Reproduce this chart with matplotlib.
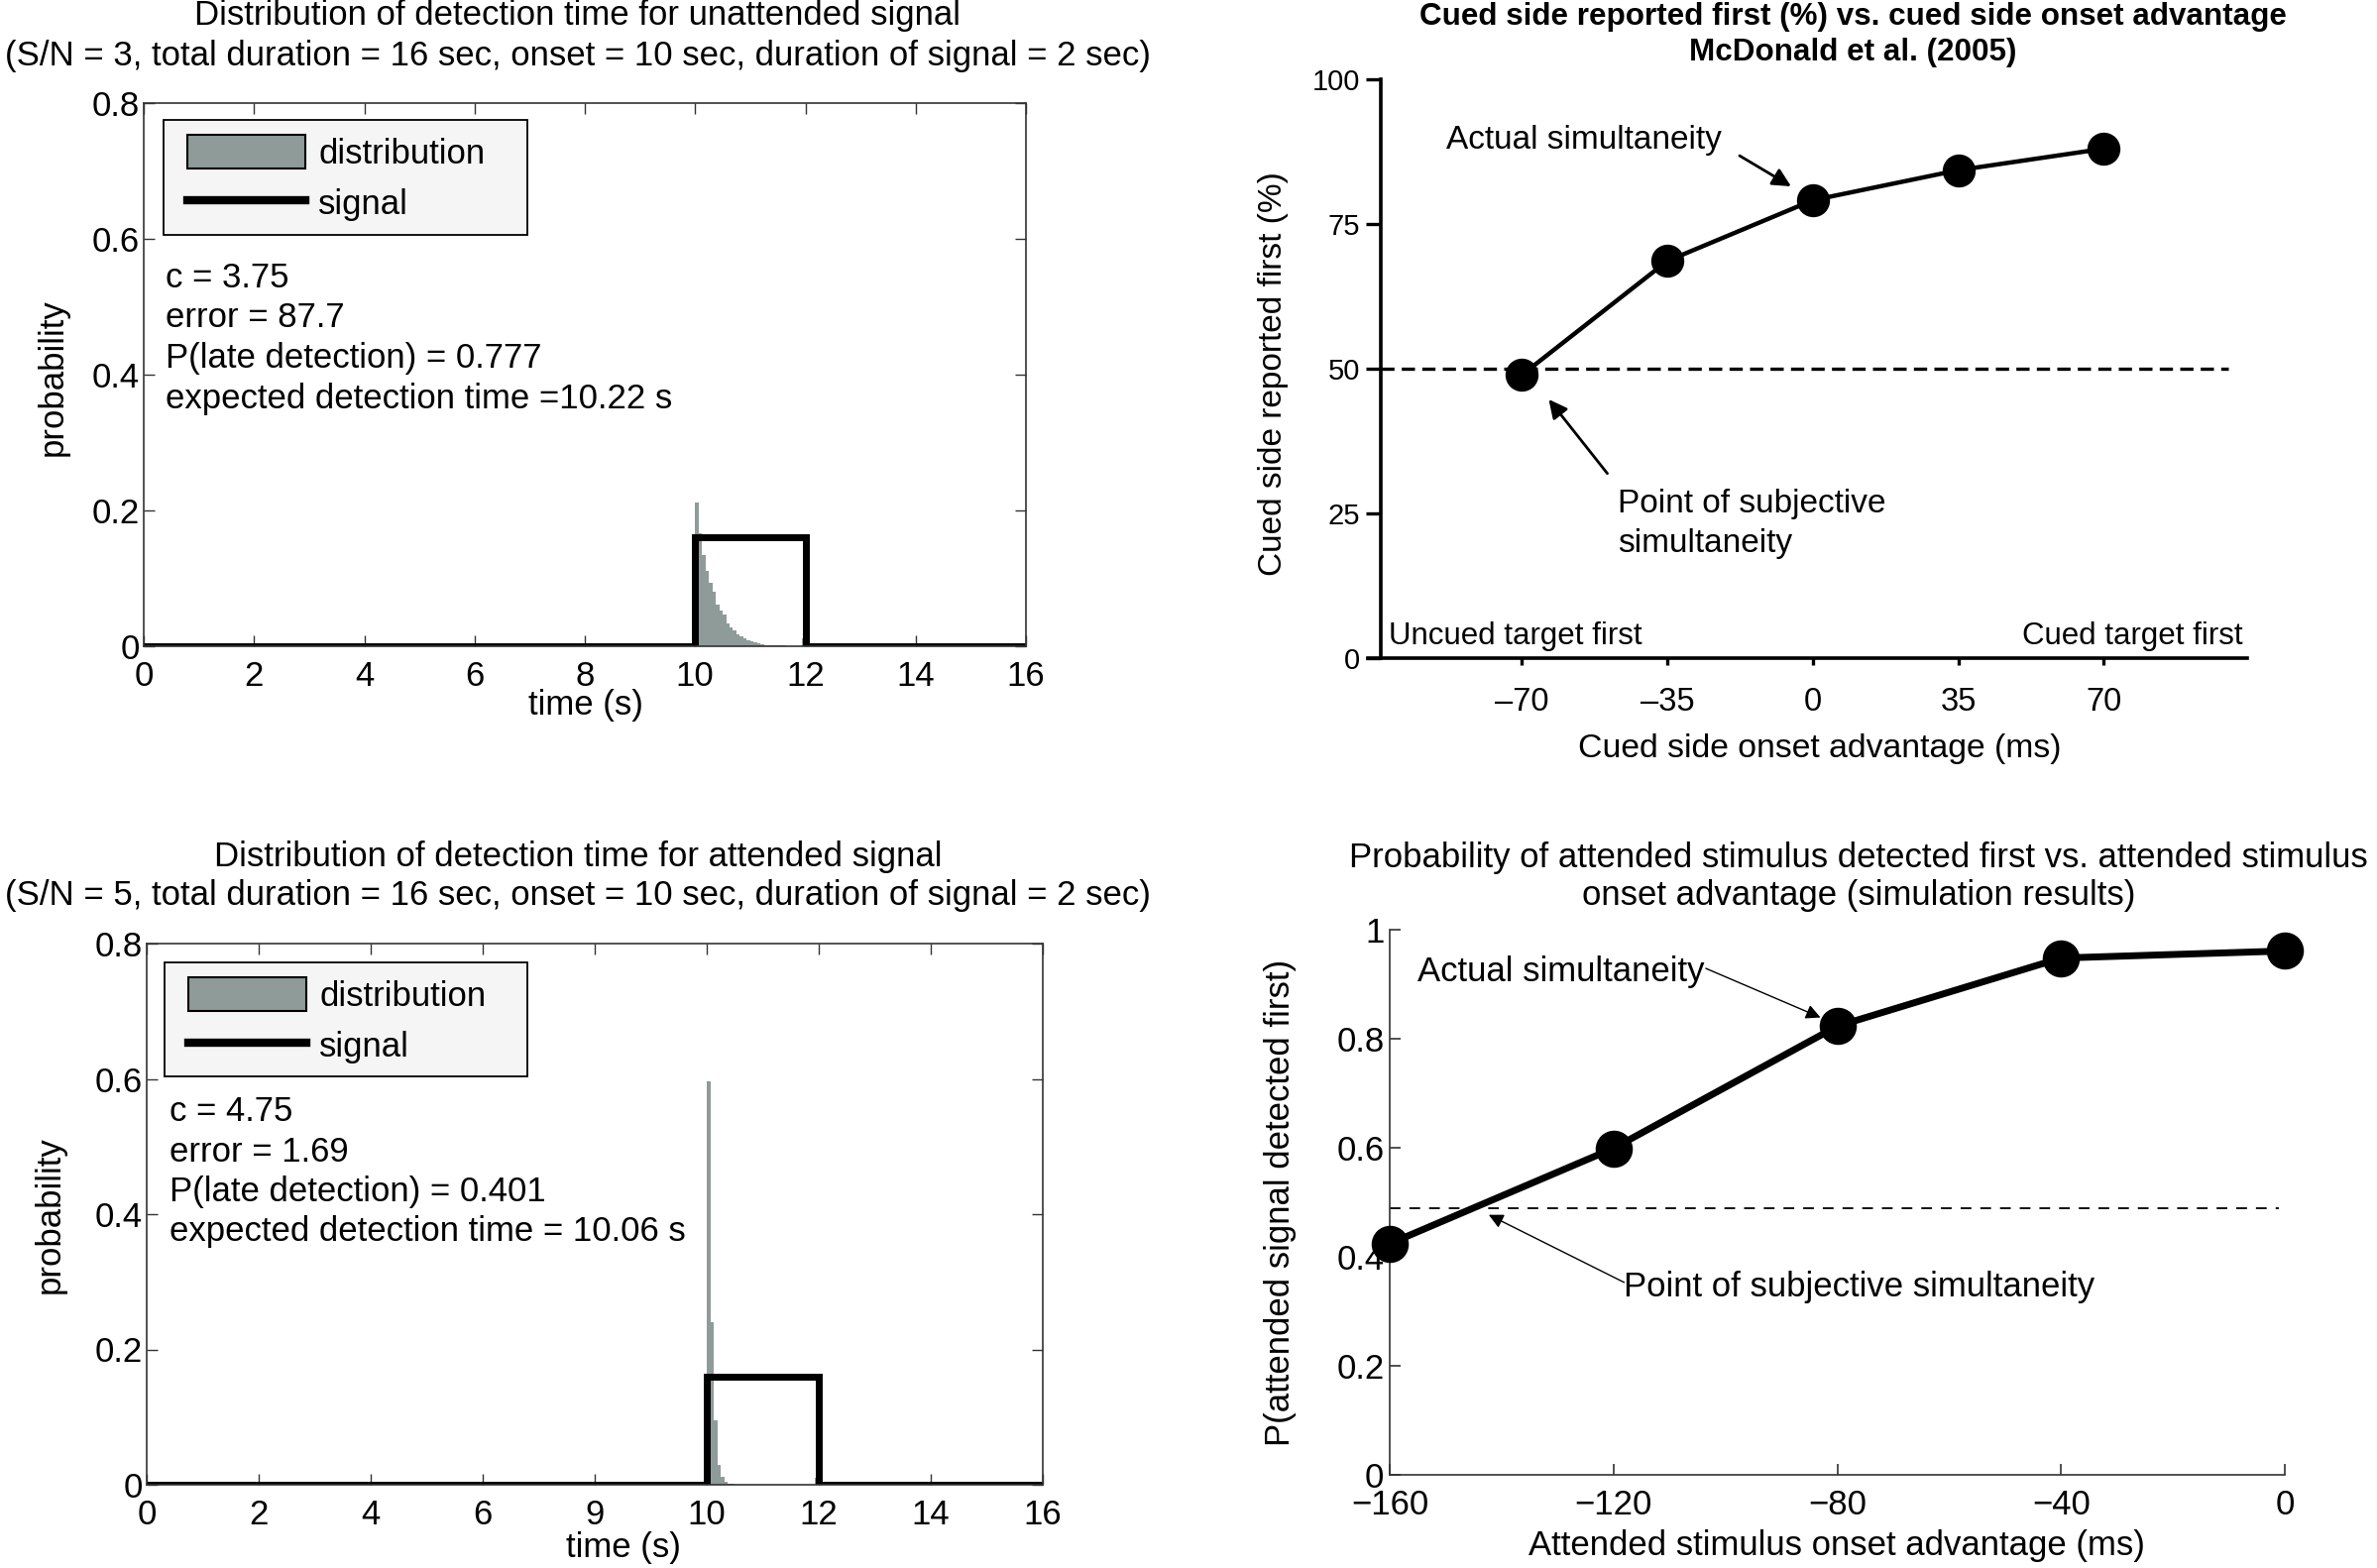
import numpy as np
import matplotlib
matplotlib.use("Agg")
import matplotlib.pyplot as plt
from matplotlib.patches import Patch, Rectangle
from matplotlib.lines import Line2D

plt.rcParams["font.family"] = ["Liberation Sans", "DejaVu Sans"]

# ---- data ----
total_duration = 16
signal_onset = 10
signal_duration = 2
signal_level = 0.16
bin_width = 0.0625

unattended_hist = [0.211, 0.167, 0.135, 0.111, 0.094, 0.080, 0.061, 0.052,
                   0.046, 0.034, 0.028, 0.024, 0.018, 0.015, 0.012, 0.009,
                   0.007, 0.006, 0.004, 0.003, 0.002, 0.002, 0.001, 0.001,
                   0.001, 0.001, 0.0005, 0.0005, 0.0005, 0.0005, 0.0005, 0.012]
attended_hist = [0.597, 0.240, 0.095, 0.030, 0.012, 0.005, 0.002, 0.001,
                 0.0005, 0.0005, 0, 0, 0, 0, 0, 0,
                 0, 0, 0, 0, 0, 0, 0, 0,
                 0, 0, 0, 0, 0, 0, 0, 0.010]

unattended_stats = ["c = 3.75", "error = 87.7", "P(late detection) = 0.777",
                    "expected detection time =10.22 s"]
attended_stats = ["c = 4.75", "error = 1.69", "P(late detection) = 0.401",
                  "expected detection time = 10.06 s"]

time_ticks = [0, 2, 4, 6, 8, 10, 12, 14, 16]
top_time_labels = ["0", "2", "4", "6", "8", "10", "12", "14", "16"]
bottom_time_labels = ["0", "2", "4", "6", "9", "10", "12", "14", "16"]

mcd_soa = [-70, -35, 0, 35, 70]
mcd_pct = [48.9, 68.6, 79.1, 84.3, 88.0]
mcd_soa_labels = ["\u201370", "\u201335", "0", "35", "70"]

sim_soa = [-160, -120, -80, -40, 0]
sim_prob = [0.424, 0.599, 0.823, 0.948, 0.961]
sim_soa_labels = ["\u2212160", "\u2212120", "\u221280", "\u221240", "0"]
sim_pss = 0.489

W, H = 2398, 1582
fig = plt.figure(figsize=(W / 100, H / 100), dpi=100)
fig.patch.set_facecolor("white")


def px_axes(left, top, right, bottom):
    return fig.add_axes([left / W, 1 - bottom / H, (right - left) / W, (bottom - top) / H])


hist_grey = "#8f9b99"


def detection_panel(ax, hist, stats, xlabels, text_y, box, xlab_pos, ylab_pos):
    lefts = signal_onset + np.arange(len(hist)) * bin_width
    ax.bar(lefts, hist, width=bin_width, align="edge", color=hist_grey, linewidth=0)
    st = [0, signal_onset, signal_onset, signal_onset + signal_duration,
          signal_onset + signal_duration, total_duration]
    sv = [0, 0, signal_level, signal_level, 0, 0]
    ax.plot(st, sv, color="black", lw=5, solid_joinstyle="miter")
    ax.set_xlim(0, total_duration)
    ax.set_ylim(0, 0.8)
    ax.set_xticks(time_ticks)
    ax.set_xticklabels(xlabels)
    ax.set_yticks([0, 0.2, 0.4, 0.6, 0.8])
    ax.set_yticklabels(["0", "0.2", "0.4", "0.6", "0.8"])
    ax.tick_params(direction="in", length=8, width=1, top=True, right=True,
                   labelsize=25, color="#333333")
    ax.tick_params(axis="x", pad=10)
    ax.tick_params(axis="y", pad=3)
    for s in ax.spines.values():
        s.set_linewidth(1.2)
        s.set_color("#333333")
    for i, t in enumerate(stats):
        ax.text(0.4, text_y[i], t, fontsize=25, va="center", ha="left")
    # legend box (MATLAB style, extra room on the right)
    bx0, by0, bx1, by1 = box
    ax.add_patch(Rectangle((bx0, by0), bx1 - bx0, by1 - by0, transform=ax.transAxes,
                           facecolor="#f4f5f4", edgecolor="black", lw=1.3, zorder=4))
    handles = [Patch(facecolor=hist_grey, edgecolor="black", lw=1.5),
               Line2D([], [], color="black", lw=6)]
    leg = ax.legend(handles, ["distribution", "signal"], loc="upper left",
                    bbox_to_anchor=(bx0 + 0.026, by1 - 0.028), borderaxespad=0,
                    borderpad=0, fontsize=25, frameon=False, handlelength=3.45,
                    handleheight=1.1, handletextpad=0.37, labelspacing=0.45)
    leg.set_zorder(5)
    ax.set_xlabel("time (s)", fontsize=25)
    ax.xaxis.set_label_coords(*xlab_pos)
    ax.xaxis.label.set_va("center")
    ax.set_ylabel("probability", fontsize=25)
    ax.yaxis.set_label_coords(*ylab_pos)
    ax.yaxis.label.set_va("center")


# ---- top left ----
ax1 = px_axes(145, 104, 1035, 652)
detection_panel(ax1, unattended_hist, unattended_stats, top_time_labels,
                [0.543, 0.484, 0.424, 0.364], (0.023, 0.758, 0.435, 0.969),
                (0.501, -0.109), (-0.103, 0.496))
fig.text(583 / W, 1 - 36 / H,
         "Distribution of detection time for unattended signal\n"
         "(S/N = 3, total duration = 16 sec, onset = 10 sec, duration of signal = 2 sec)",
         ha="center", va="center", fontsize=25, linespacing=1.27)

# ---- bottom left ----
ax2 = px_axes(148, 952, 1052, 1498)
detection_panel(ax2, attended_hist, attended_stats, bottom_time_labels,
                [0.551, 0.492, 0.433, 0.374], (0.02, 0.755, 0.425, 0.965),
                (0.532, -0.117), (-0.108, 0.499))
fig.text(583 / W, 1 - 884 / H,
         "Distribution of detection time for attended signal\n"
         "(S/N = 5, total duration = 16 sec, onset = 10 sec, duration of signal = 2 sec)",
         ha="center", va="center", fontsize=25, linespacing=1.24)

# ---- top right (McDonald et al. 2005) ----
ax3 = px_axes(1380, 80, 2267, 664)
ax3.plot([-104, 100], [50, 50], color="black", lw=2.4, ls=(0, (4, 2.2)), clip_on=False)
ax3.plot(mcd_soa, mcd_pct, color="black", lw=3.2, marker="o", ms=23, clip_on=False, zorder=3)
ax3.set_xlim(-107, 104.5)
ax3.set_ylim(0, 100)
ax3.set_xticks(mcd_soa)
ax3.set_xticklabels(mcd_soa_labels)
ax3.set_yticks([0, 25, 50, 75, 100])
ax3.spines["left"].set_position(("data", -104))
for s in ["top", "right"]:
    ax3.spines[s].set_visible(False)
for s in ["left", "bottom"]:
    ax3.spines[s].set_linewidth(2.6)
ax3.tick_params(axis="y", direction="out", length=11, width=2.4, labelsize=21, pad=4)
ax3.tick_params(axis="x", direction="out", length=5, width=2.4, labelsize=23.5, pad=16)
ax3.annotate("", xy=(-5.2, 81.5), xytext=(-17.6, 86.8),
             arrowprops=dict(arrowstyle="-|>", color="black", lw=2, mutation_scale=28,
                             shrinkA=0, shrinkB=0))
ax3.text(-88.2, 89.4, "Actual simultaneity", fontsize=24, va="center", ha="left")
ax3.annotate("", xy=(-63.5, 44.7), xytext=(-49.4, 31.9),
             arrowprops=dict(arrowstyle="-|>", color="black", lw=2, mutation_scale=28,
                             shrinkA=0, shrinkB=0))
ax3.text(-46.8, 23.2, "Point of subjective\nsimultaneity", fontsize=24,
         va="center", ha="left", linespacing=1.35)
ax3.text(-102.1, 3.8, "Uncued target first", fontsize=22.5, va="center", ha="left")
ax3.text(103.4, 3.8, "Cued target first", fontsize=22.5, va="center", ha="right")
ax3.set_xlabel("Cued side onset advantage (ms)", fontsize=24.3)
ax3.xaxis.set_label_coords(0.514, -0.1575)
ax3.xaxis.label.set_va("center")
ax3.set_ylabel("Cued side reported first (%)", fontsize=24)
ax3.yaxis.set_label_coords(-0.108, 0.492)
ax3.yaxis.label.set_va("center")
fig.text(1869 / W, 1 - 35 / H,
         "Cued side reported first (%) vs. cued side onset advantage\nMcDonald et al. (2005)",
         ha="center", va="center", fontsize=22.6, fontweight="bold", linespacing=1.22)

# ---- bottom right (simulation) ----
ax4 = px_axes(1402, 938, 2305, 1488)
ax4.plot([-160, -1], [sim_pss, sim_pss], color="black", lw=1.3, ls=(0, (6, 5)))
ax4.plot(sim_soa, sim_prob, color="black", lw=5, marker="o", ms=26, clip_on=False, zorder=3)
ax4.set_xlim(-160, 0)
ax4.set_ylim(0, 1)
ax4.set_xticks(sim_soa)
ax4.set_xticklabels(sim_soa_labels)
ax4.set_yticks([0, 0.2, 0.4, 0.6, 0.8, 1])
ax4.set_yticklabels(["0", "0.2", "0.4", "0.6", "0.8", "1"])
for s in ["top", "right"]:
    ax4.spines[s].set_visible(False)
for s in ["left", "bottom"]:
    ax4.spines[s].set_linewidth(1.2)
    ax4.spines[s].set_color("#333333")
ax4.tick_params(direction="in", length=8, width=1.2, labelsize=25, color="#333333")
ax4.tick_params(axis="x", pad=10)
ax4.tick_params(axis="y", pad=4)
ax4.annotate("", xy=(-83, 0.839), xytext=(-103.5, 0.929),
             arrowprops=dict(arrowstyle="-|>", color="black", lw=1, mutation_scale=22,
                             shrinkA=0, shrinkB=0))
ax4.text(-155, 0.923, "Actual simultaneity", fontsize=25, va="center", ha="left")
ax4.annotate("", xy=(-142.3, 0.477), xytext=(-118.1, 0.353),
             arrowprops=dict(arrowstyle="-|>", color="black", lw=1, mutation_scale=22,
                             shrinkA=0, shrinkB=0))
ax4.text(-118.1, 0.345, "Point of subjective simultaneity", fontsize=25,
         va="center", ha="left")
ax4.set_xlabel("Attended stimulus onset advantage (ms)", fontsize=25)
ax4.xaxis.set_label_coords(0.4995, -0.13)
ax4.xaxis.label.set_va("center")
ax4.set_ylabel("P(attended signal detected first)", fontsize=25)
ax4.yaxis.set_label_coords(-0.122, 0.5)
ax4.yaxis.label.set_va("center")
fig.text(1875 / W, 1 - 884.5 / H,
         "Probability of attended stimulus detected first vs. attended stimulus\n"
         "onset advantage (simulation results)",
         ha="center", va="center", fontsize=25, linespacing=1.2)

fig.savefig("out.png", dpi=100)
